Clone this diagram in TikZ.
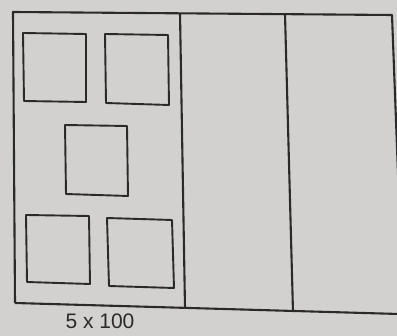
\documentclass[tikz,border=0pt]{standalone}
\usepackage{fontspec}
\setmainfont{Liberation Sans}
\definecolor{paper}{HTML}{D2D1CF}
\definecolor{ink}{HTML}{2A2A2A}
\tikzset{
  wall/.style={draw=ink, line width=2.1pt, line join=round},
  box/.style={draw=ink, line width=1.9pt, line join=round},
}
\begin{document}
\begin{tikzpicture}[x=1pt,y=-1pt]
\fill[paper] (0,0) rectangle (397,336);
\useasboundingbox (0,0) rectangle (397,336);
\clip (0,0) rectangle (397,336);
% corner coordinates of the frame
\coordinate (tl) at (13,12);
\coordinate (tr) at (392,15);
\coordinate (bl) at (15,303);
\coordinate (br) at (399,314);
\coordinate (rb) at (399,200);
\coordinate (d1t) at (180,13);
\coordinate (d1b) at (185,308);
\coordinate (d2t) at (285,14);
\coordinate (d2b) at (293,312);
\draw[wall] (bl) -- (tl) -- (tr) -- (rb);
\draw[wall] (bl) -- (br);
\draw[wall] (d1t) -- (d1b);
\draw[wall] (d2t) -- (d2b);
% small squares
\draw[box] (23,33) -- (86,34) -- (86,102) -- (24,101) -- cycle;
\draw[box] (105,34) -- (168,35) -- (169,105) -- (106,103) -- cycle;
\draw[box] (65,125) -- (127,126) -- (128,196) -- (66,194) -- cycle;
\draw[box] (26,215) -- (89,216) -- (90,284) -- (27,282) -- cycle;
\draw[box] (107,218) -- (172,220) -- (174,288) -- (109,286) -- cycle;
\node[text=ink, font=\fontsize{21}{22}\selectfont, inner sep=0pt] (lbl) at (100,321) {5 x 100};
\end{tikzpicture}
\end{document}
